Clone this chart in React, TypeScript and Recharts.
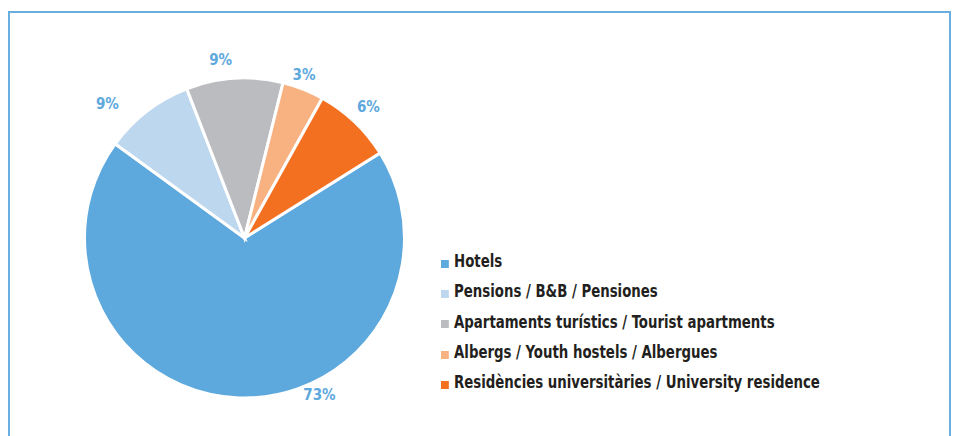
import React from 'react';
import { PieChart, Pie, Cell, Legend } from 'recharts';

const categories = [
  'Hotels',
  'Pensions / B&B / Pensiones',
  'Apartaments turístics / Tourist apartments',
  'Albergs / Youth hostels / Albergues',
  'Residències universitàries / University residence',
];
// slice sizes as drawn in the picture
const shares = [68.9, 9.1, 9.75, 4.2, 8.0];
// percentage labels printed next to each slice
const shareLabels = ['73%', '9%', '9%', '3%', '6%'];
const colors = ['#5DA8DC', '#BDD7EE', '#BBBCBF', '#F8B282', '#F37021'];

const data = categories.map((name, i) => ({ name, value: shares[i], label: shareLabels[i] }));

// small shifts so labels sit where the original placed them
const labelNudge = [27.5, 8, 4, 1.5, 0];
const labelGap = [14, 32, 20, 14, 20];
const RADIAN = Math.PI / 180;
const FONT = '"Liberation Sans Narrow", "Arial Narrow", "DejaVu Sans Condensed", sans-serif';

const renderLabel = (props: any) => {
  const { cx, cy, midAngle, outerRadius, index } = props;
  const angle = (midAngle + labelNudge[index]) * RADIAN;
  const r = outerRadius + labelGap[index];
  const x = cx + r * Math.cos(-angle);
  const y = cy + r * Math.sin(-angle);
  return (
    <text
      x={x}
      y={y}
      fill="#5DA8DC"
      textAnchor="middle"
      dominantBaseline="central"
      style={{ fontFamily: FONT, fontSize: 15, fontWeight: 700 }}
    >
      {data[index].label}
    </text>
  );
};

const renderLegend = () => (
  <div
    style={{
      fontFamily: FONT,
      fontWeight: 700,
      fontSize: 17,
      color: '#231F20',
      transform: 'scaleX(0.87)',
      transformOrigin: 'left top',
      whiteSpace: 'nowrap',
    }}
  >
    {data.map((d, i) => (
      <div key={d.name} style={{ height: 30.3, display: 'flex', alignItems: 'center' }}>
        <span
          style={{ display: 'inline-block', width: 9, height: 8, background: colors[i], marginRight: 6, marginTop: 5 }}
        />
        <span>{d.name}</span>
      </div>
    ))}
  </div>
);

export default function App() {
  return (
    <div style={{ position: 'absolute', left: 0, top: 0, width: 953, height: 436, background: '#fff' }}>
      <div
        style={{
          position: 'absolute',
          left: 8,
          top: 11,
          width: 939,
          height: 440,
          borderTop: '2px solid #6AAEE0',
          borderLeft: '2px solid #6AAEE0',
          borderRight: '2px solid #6AAEE0',
        }}
      />
      <PieChart
        width={953}
        height={436}
        margin={{ top: 0, right: 0, bottom: 0, left: 0 }}
        style={{ position: 'absolute', left: 0, top: 0 }}
      >
        <Pie
          data={data}
          dataKey="value"
          nameKey="name"
          cx={244.5}
          cy={238}
          outerRadius={160}
          startAngle={32.1}
          endAngle={32.1 - 360}
          stroke="#FFFFFF"
          strokeWidth={3}
          label={renderLabel}
          labelLine={false}
          isAnimationActive={false}
        >
          {data.map((d, i) => (
            <Cell key={d.name} fill={colors[i]} />
          ))}
        </Pie>
        <Legend
          layout="vertical"
          verticalAlign="middle"
          align="center"
          content={renderLegend}
          wrapperStyle={{ left: 441, top: 246, width: 480 }}
        />
      </PieChart>
    </div>
  );
}
